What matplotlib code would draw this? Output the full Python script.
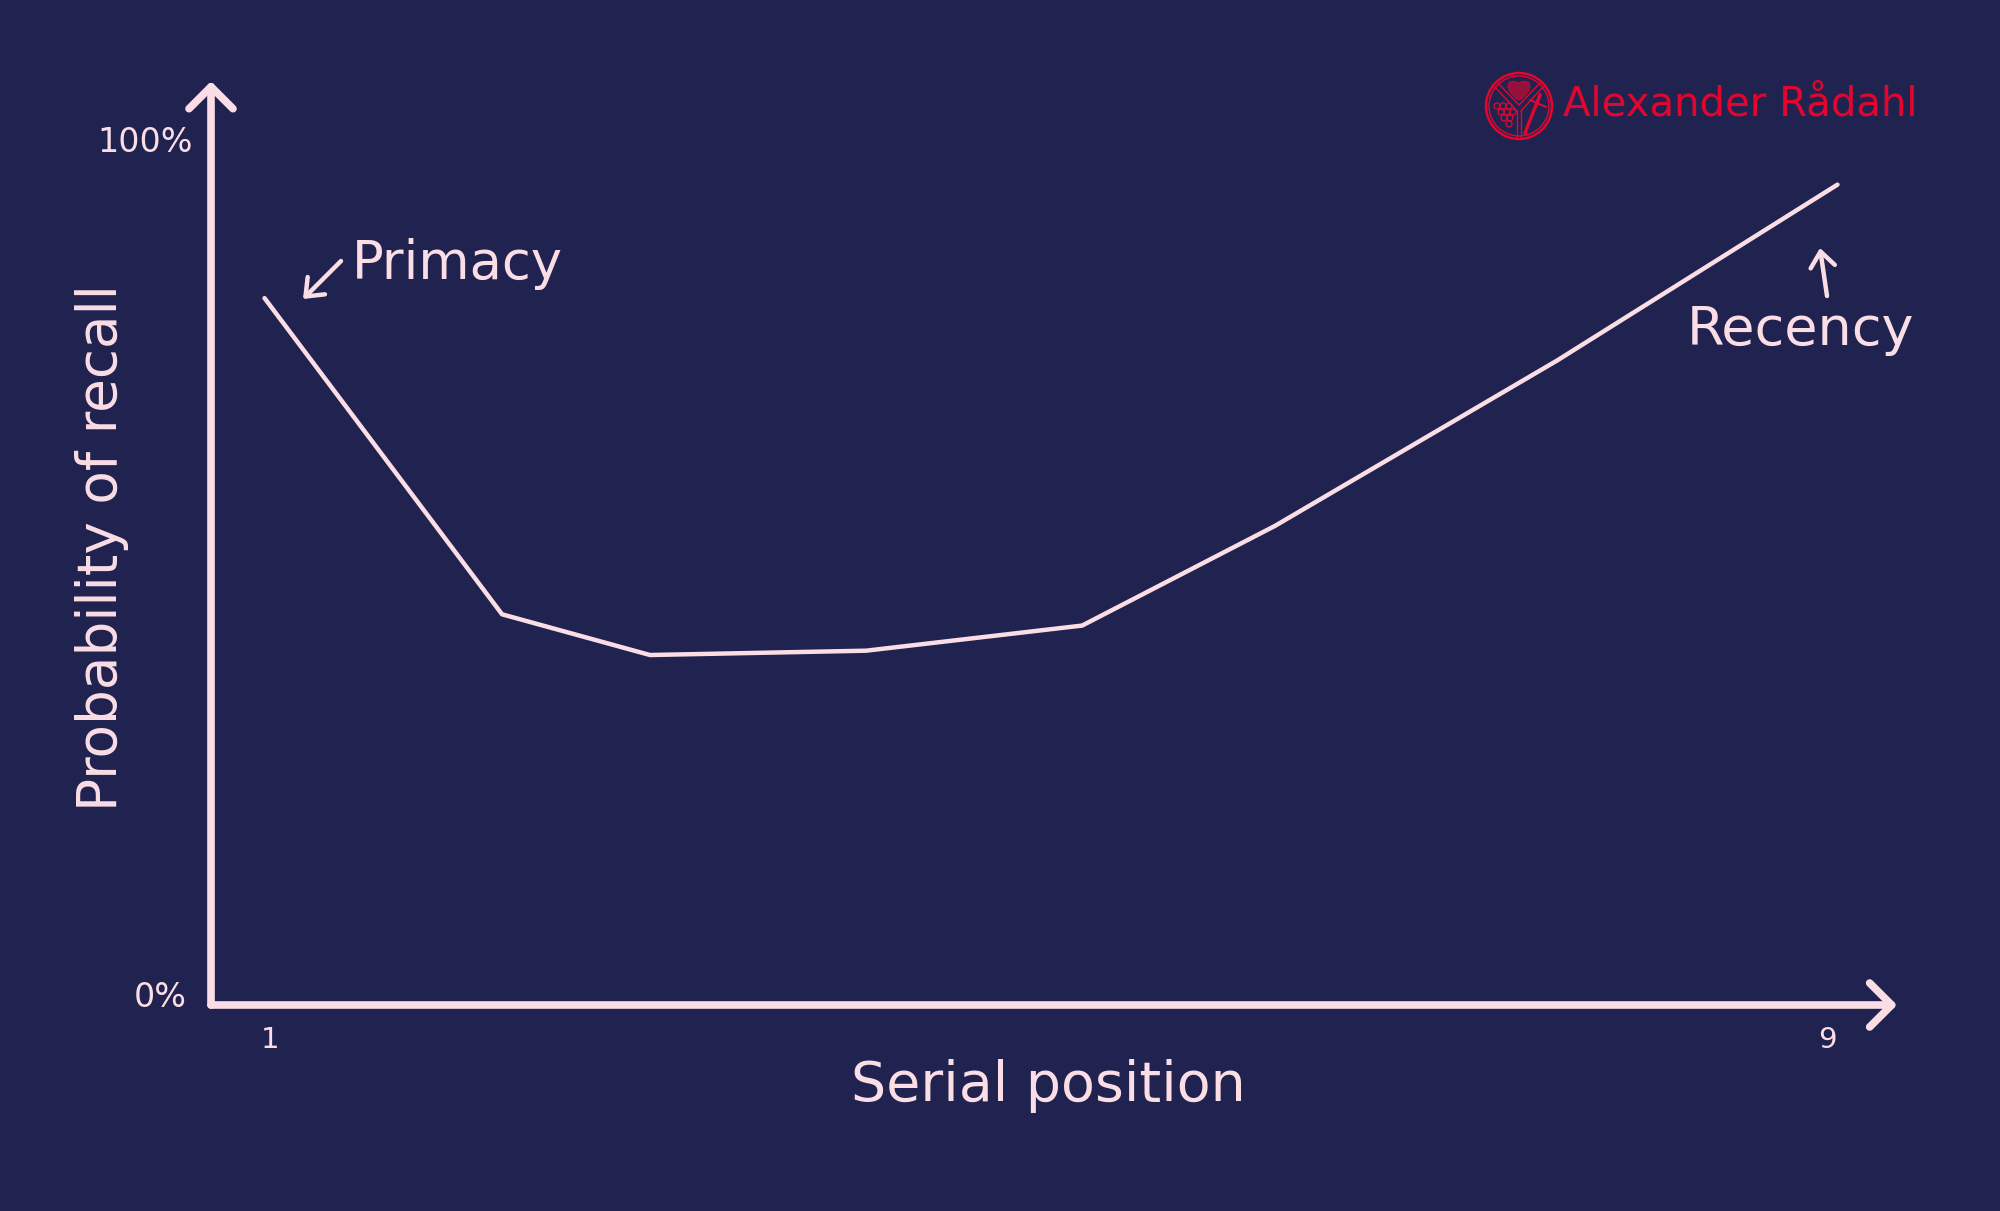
import numpy as np
import matplotlib
matplotlib.use("Agg")
import matplotlib.pyplot as plt
from matplotlib.patches import Circle, PathPatch
from matplotlib.path import Path
from matplotlib.transforms import ScaledTranslation

# curve
serial_pos = [0.97, 2.19, 2.95, 4.06, 5.17, 6.16, 7.61, 9.05]
recall_pct = [81.6, 45.1, 40.4, 40.9, 43.8, 55.3, 74.4, 94.7]
x_ticks = [1, 9]
x_tick_labels = ["1", "9"]
y_ticks = [0, 100]
y_tick_labels = ["0%", "100%"]

BG = "#20234F"
PINK = "#FBDDE6"
RED = "#E2062F"
W, H = 2000, 1211

plt.rcParams["font.family"] = ["DejaVu Sans"]

fig = plt.figure(figsize=(W / 100, H / 100), dpi=100, facecolor=BG)

# axes box in pixels: y axis at x=211, x axis at y=1005
left, right, top, bottom = 211, 1892, 85, 1005
ax = fig.add_axes([left / W, 1 - bottom / H, (right - left) / W, (bottom - top) / H])
ax.set_facecolor(BG)
ax.set_xlim(0.695, 9.33)
ax.set_ylim(0, 106.2)
for s in ax.spines.values():
    s.set_visible(False)

ax.plot(serial_pos, recall_pct, color=PINK, lw=3.2, solid_capstyle="round", solid_joinstyle="round")

ax.set_xticks(x_ticks, x_tick_labels)
ax.set_yticks(y_ticks, y_tick_labels)
ax.tick_params(length=0, labelcolor=PINK)
ax.tick_params(axis="x", labelsize=21, pad=15)
ax.tick_params(axis="y", labelsize=24, pad=13)
# the 0% label sits a little above the axis line
lab0 = ax.get_yticklabels()[0]
lab0.set_transform(lab0.get_transform() + ScaledTranslation(-6 / 100, 11 / 100, fig.dpi_scale_trans))

# axis lines with open arrow heads
arrow = dict(arrowstyle="->,head_length=0.72,head_width=0.72", color=PINK, lw=5.5, shrinkA=0, shrinkB=0,
             capstyle="round", joinstyle="round", mutation_scale=22)
ax.annotate("", xy=(0, 1.004), xytext=(0, 0), xycoords="axes fraction", textcoords="axes fraction",
            arrowprops=arrow, annotation_clip=False)
ax.annotate("", xy=(1.003, 0), xytext=(0, 0), xycoords="axes fraction", textcoords="axes fraction",
            arrowprops=arrow, annotation_clip=False)

# overlay in picture pixels for labels and logo
ov = fig.add_axes([0, 0, 1, 1])
ov.set_xlim(0, W)
ov.set_ylim(H, 0)
ov.axis("off")
ov.patch.set_alpha(0)

ov.text(1048, 1086, "Serial position", color=PINK, fontsize=40, ha="center", va="center")
ov.text(102, 548, "Probability of recall", color=PINK, fontsize=39.5, rotation=90, ha="center", va="center")
ov.text(352, 264, "Primacy", color=PINK, fontsize=38, ha="left", va="center")
ov.text(1687, 330, "Recency", color=PINK, fontsize=39, ha="left", va="center")

small = dict(arrowstyle="->,head_length=0.5,head_width=0.4", color=PINK, lw=3.2, shrinkA=0, shrinkB=0,
             mutation_scale=22, capstyle="round")
ov.annotate("", xy=(303, 299), xytext=(341, 261), arrowprops=small)
ov.annotate("", xy=(1820, 248), xytext=(1827, 296), arrowprops=small)

# logo
cx, cy = 1519, 106
ov.add_patch(Circle((cx, cy), 33, fc="none", ec=RED, lw=1.8))
ov.add_patch(Circle((cx, cy), 30, fc="none", ec=RED, lw=1.0))
ov.plot([cx - 2, cx - 2], [cy + 5, cy + 31], color=RED, lw=1.0)
ov.plot([cx + 2, cx + 2], [cy + 5, cy + 31], color=RED, lw=1.0)
ov.plot([cx - 24, cx - 2], [cy - 19, cy + 5], color=RED, lw=1.0)
ov.plot([cx + 24, cx + 2], [cy - 19, cy + 5], color=RED, lw=1.0)
ov.plot([cx - 21, cx, cx + 21], [cy - 23, cy - 1, cy - 23], color=RED, lw=1.0)
heart = Path([(cx, cy - 6), (cx - 16, cy - 16), (cx - 13, cy - 29), (cx, cy - 23),
              (cx + 13, cy - 29), (cx + 16, cy - 16), (cx, cy - 6)],
             [Path.MOVETO, Path.CURVE4, Path.CURVE4, Path.CURVE4, Path.CURVE4, Path.CURVE4, Path.CURVE4])
ov.add_patch(PathPatch(heart, fc=RED, ec=RED, lw=1, alpha=0.6))
for gx, gy in [(-22, 0), (-16, 0), (-10, 0), (-18, 6), (-12, 6), (-6, 6), (-15, 12), (-9, 12), (-10, 18)]:
    ov.add_patch(Circle((cx + gx, cy + gy), 3.0, fc="none", ec=RED, lw=0.9))
ov.plot([cx + 6, cx + 21], [cy + 27, cy - 11], color=RED, lw=2.4)
ov.plot([cx + 11, cx + 27], [cy - 6, cy + 1], color=RED, lw=1.4)

ov.text(1563, 116, "Alexander Rådahl", color=RED, fontsize=29, ha="left", va="baseline")

fig.savefig("out.png", dpi=100, facecolor=BG)
